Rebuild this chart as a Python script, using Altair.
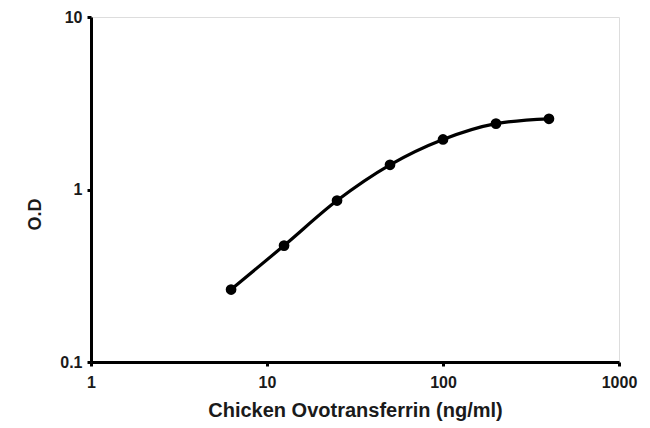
import altair as alt
import pandas as pd

conc = [6.25, 12.5, 25, 50, 100, 200, 400]
od = [0.263, 0.473, 0.863, 1.39, 1.95, 2.41, 2.57]

df = pd.DataFrame({"conc": conc, "od": od})

x = alt.X("conc:Q", scale=alt.Scale(type="log", domain=[1, 1000], nice=False),
          axis=alt.Axis(title="Chicken Ovotransferrin (ng/ml)", values=[1, 10, 100, 1000],
                        format="~g", grid=False, domainWidth=3, domainColor="black",
                        tickColor="black", tickWidth=3, tickSize=4,
                        labelFont="Liberation Sans", labelFontWeight="bold", labelFontSize=16,
                        labelColor="#1a1a1a", labelPadding=8,
                        titleFont="Liberation Sans", titleFontWeight="bold", titleFontSize=20,
                        titleColor="#1a1a1a", titlePadding=10, labelFlush=False))
y = alt.Y("od:Q", scale=alt.Scale(type="log", domain=[0.1, 10], nice=False),
          axis=alt.Axis(title="O.D", values=[0.1, 1, 10], format="~g", grid=False,
                        domainWidth=3, domainColor="black", tickColor="black",
                        tickWidth=3, tickSize=4,
                        labelFont="Liberation Sans", labelFontWeight="bold", labelFontSize=16,
                        labelColor="#1a1a1a", labelPadding=5, labelFlush=False,
                        titleFont="Liberation Sans", titleFontWeight="bold", titleFontSize=18,
                        titleColor="#1a1a1a", titleX=-56, titleY=197,
                        titleAlign="center", titleBaseline="middle", titleAngle=270))

base = alt.Chart(df)
line = base.mark_line(color="black", strokeWidth=3.2, interpolate="monotone").encode(x=x, y=y)
pts = base.mark_circle(color="black", size=115, opacity=1).encode(x=x, y=y)

chart = (line + pts).properties(
    width=528, height=345,
    autosize=alt.AutoSizeParams(type="none"),
    padding={"left": 83, "top": 9, "right": 20, "bottom": 60},
).configure_view(stroke=None).configure(background="white")

chart.save("out.html", embed_options={"renderer": "svg", "actions": False})
